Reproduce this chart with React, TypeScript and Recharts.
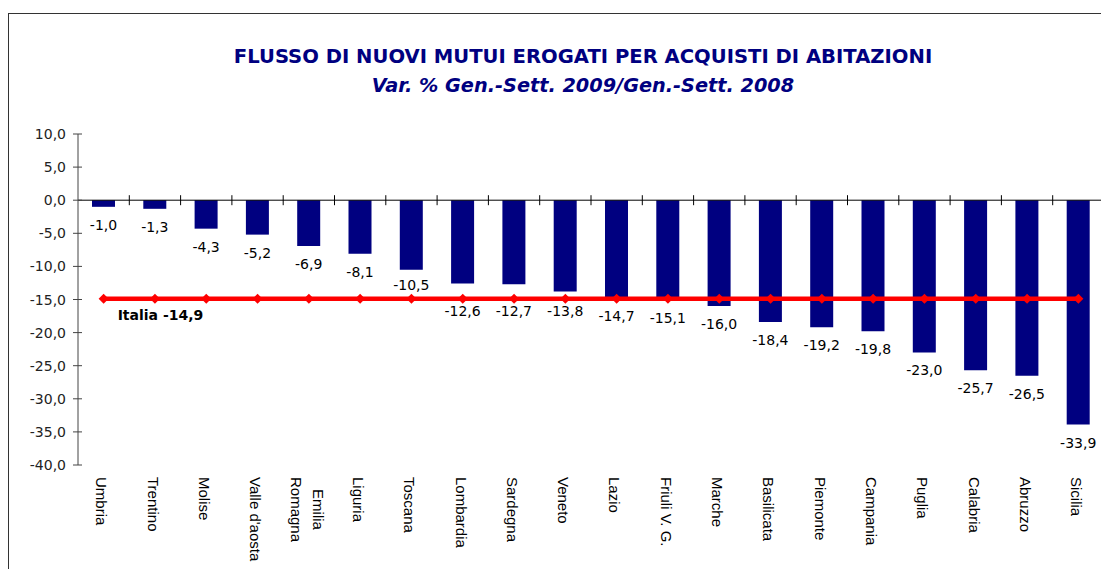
import { ComposedChart, Bar, Line, XAxis, YAxis, ReferenceLine, LabelList } from "recharts"

const regions = [
  "Umbria", "Trentino", "Molise", "Valle d'aosta", "Emilia\nRomagna", "Liguria", "Toscana",
  "Lombardia", "Sardegna", "Veneto", "Lazio", "Friuli V. G.", "Marche", "Basilicata",
  "Piemonte", "Campania", "Puglia", "Calabria", "Abruzzo", "Sicilia",
]
const variation = [
  -1.0, -1.3, -4.3, -5.2, -6.9, -8.1, -10.5, -12.6, -12.7, -13.8,
  -14.7, -15.1, -16.0, -18.4, -19.2, -19.8, -23.0, -25.7, -26.5, -33.9,
]
const italia = [
  -14.9, -14.9, -14.9, -14.9, -14.9, -14.9, -14.9, -14.9, -14.9, -14.9,
  -14.9, -14.9, -14.9, -14.9, -14.9, -14.9, -14.9, -14.9, -14.9, -14.9,
]
const yTicks = [10, 5, 0, -5, -10, -15, -20, -25, -30, -35, -40]

const data = regions.map((name, i) => ({ name, value: variation[i], italia: italia[i] }))

const fmt = (v: number) => v.toFixed(1).replace(".", ",")

const NAVY = "#000080"
const TAHOMA = "Tahoma, 'DejaVu Sans', sans-serif"
const ARIAL = "Arial, 'Liberation Sans', sans-serif"

let ctx: CanvasRenderingContext2D | null = null
function textWidth(s: string, font: string) {
  if (!ctx) ctx = document.createElement("canvas").getContext("2d")
  if (!ctx) return s.length * 8
  ctx.font = font
  return ctx.measureText(s).width
}

// rotated category labels, multi-line centred on each other
function CategoryTick({ x, y, payload }: any) {
  const lines = String(payload.value).split("\n")
  const widths = lines.map((l) => textWidth(l, "15px 'Liberation Sans'"))
  const maxW = Math.max(...widths)
  const lh = 22
  return (
    <g transform={`translate(${x - 2},${y})`}>
      <text transform="rotate(90)" fontFamily={ARIAL} fontSize={15} fill="#000">
        {lines.map((l, i) => (
          <tspan key={i} x={(maxW - widths[i]) / 2} y={(i - (lines.length - 1) / 2) * lh} dy="0.35em">
            {l}
          </tspan>
        ))}
      </text>
    </g>
  )
}

// y tick label plus the inner half of the cross tick
function ValueTick({ x, y, payload }: any) {
  const axisX = x + 12
  return (
    <g>
      <line x1={axisX} x2={axisX + 4} y1={y} y2={y} stroke="#444" />
      <text x={x} y={y} textAnchor="end" dominantBaseline="central" fontFamily={TAHOMA} fontSize={14} fill="#222">
        {fmt(payload.value)}
      </text>
    </g>
  )
}

// value under each bar; nudged off the Italia line when they would collide
function ValueLabel(props: any) {
  const { x, y, width, height, value, index } = props
  const top = Math.min(y, y + height)
  const bottom = Math.max(y, y + height)
  const perUnit = Math.abs(height) / Math.abs(value)
  const lineY = top + Math.abs(italia[index]) * perUnit
  let ly = bottom + 18
  if (Math.abs(ly - lineY) < 13) ly = ly < lineY ? lineY - 14 : lineY + 12
  return (
    <text x={x + width / 2} y={ly} textAnchor="middle" dominantBaseline="central"
      fontFamily={TAHOMA} fontSize={14} fill="#000">
      {fmt(value)}
    </text>
  )
}

function ItaliaLabel(props: any) {
  const { x, y, index, value } = props
  if (index !== 0) return null
  return (
    <text x={x + 14} y={y + 16} dominantBaseline="central" fontFamily={TAHOMA}
      fontSize={14} fontWeight="bold" fill="#000">
      {"Italia " + fmt(value)}
    </text>
  )
}

function Diamond({ cx, cy, index }: any) {
  const s = 5
  return (
    <polygon key={index} points={`${cx},${cy - s} ${cx + s},${cy} ${cx},${cy + s} ${cx - s},${cy}`} fill="#ff0000" />
  )
}

// zero line with tick marks at category boundaries
function ZeroAxis(props: any) {
  const { x1, y1, x2 } = props
  const n = regions.length
  const step = (x2 - x1) / n
  const ticks = []
  for (let i = 1; i <= n; i++) {
    const tx = x1 + step * i
    ticks.push(<line key={i} x1={tx} x2={tx} y1={y1 - 5} y2={y1 + 5} stroke="#000" strokeWidth={1} />)
  }
  return (
    <g>
      <line x1={x1} x2={x2} y1={y1} y2={y1} stroke="#000" strokeWidth={1} />
      {ticks}
    </g>
  )
}

export default function App() {
  return (
    <div style={{ position: "fixed", left: 8, top: 13, width: 1200, height: 600, border: "1.5px solid #333", boxSizing: "border-box", background: "#fff" }}>
      <div style={{ position: "absolute", left: 0, top: 32, width: 1148, textAlign: "center", fontFamily: TAHOMA, fontWeight: "bold", fontSize: 19.6, lineHeight: "22px", color: NAVY }}>
        FLUSSO DI NUOVI MUTUI EROGATI PER ACQUISTI DI ABITAZIONI
      </div>
      <div style={{ position: "absolute", left: 0, top: 61, width: 1148, textAlign: "center", fontFamily: TAHOMA, fontWeight: "bold", fontStyle: "italic", fontSize: 19.3, lineHeight: "22px", color: NAVY }}>
        Var. % Gen.-Sett. 2009/Gen.-Sett. 2008
      </div>
      <div style={{ position: "absolute", left: 0, top: 0 }}>
        <ComposedChart width={1150} height={560} data={data} margin={{ top: 120, right: 55, left: 9, bottom: 0 }}>
          <XAxis dataKey="name" axisLine={false} tickLine={false} tickSize={0} tickMargin={12}
            height={109} interval={0} tick={<CategoryTick />} />
          <YAxis domain={[-40, 10]} ticks={yTicks} interval={0} width={60}
            stroke="#444" tickSize={5} tickMargin={7} tick={<ValueTick />} />
          <Bar dataKey="value" fill={NAVY} barSize={23} isAnimationActive={false}>
            <LabelList dataKey="value" content={<ValueLabel />} />
          </Bar>
          <ReferenceLine y={0} shape={<ZeroAxis />} />
          <Line dataKey="italia" stroke="#ff0000" strokeWidth={4.5} dot={<Diamond />} activeDot={false}
            isAnimationActive={false}>
            <LabelList dataKey="italia" content={<ItaliaLabel />} />
          </Line>
        </ComposedChart>
      </div>
    </div>
  )
}
